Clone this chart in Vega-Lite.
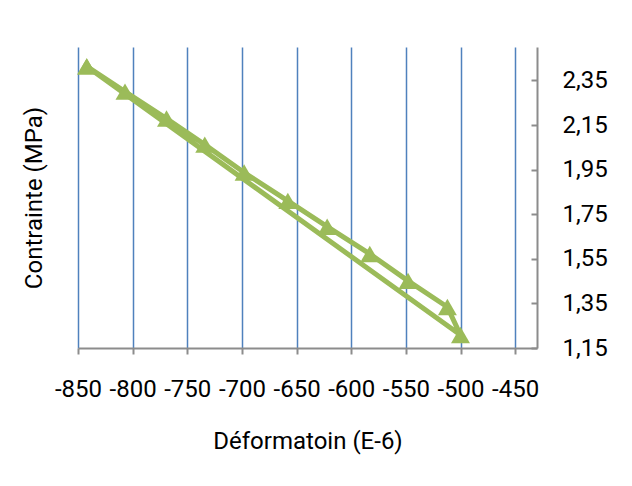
{
  "$schema": "https://vega.github.io/schema/vega-lite/v6.json",
  "width": 459,
  "height": 301,
  "autosize": {"type": "none"},
  "padding": {"left": 78, "top": 47, "right": 95, "bottom": 138},
  "background": "white",
  "config": {
    "view": {"stroke": null},
    "font": "Roboto",
    "axis": {"labelFont": "Roboto", "titleFont": "Roboto"}
  },
  "data": {
    "values": [
      {"i": 1, "def": -842, "contrainte": 2.413},
      {"i": 2, "def": -807, "contrainte": 2.300},
      {"i": 3, "def": -769, "contrainte": 2.179},
      {"i": 4, "def": -734, "contrainte": 2.062},
      {"i": 5, "def": -698, "contrainte": 1.937},
      {"i": 6, "def": -658, "contrainte": 1.810},
      {"i": 7, "def": -622, "contrainte": 1.694},
      {"i": 8, "def": -583, "contrainte": 1.572},
      {"i": 9, "def": -548, "contrainte": 1.451},
      {"i": 10, "def": -512, "contrainte": 1.334},
      {"i": 11, "def": -500, "contrainte": 1.208},
      {"i": 12, "def": -842, "contrainte": 2.413}
    ]
  },
  "resolve": {"axis": {"y": "independent"}},
  "layer": [
    {
      "mark": {"type": "line", "color": "#9BBB59", "strokeWidth": 5, "strokeJoin": "round"},
      "encoding": {
        "x": {
          "field": "def", "type": "quantitative",
          "scale": {"domain": [-850, -430], "nice": false, "zero": false},
          "axis": {
            "orient": "bottom",
            "values": [-850, -800, -750, -700, -650, -600, -550, -500, -450],
            "labelExpr": "toString(datum.value)",
            "grid": true, "gridColor": "#4F81BD", "gridWidth": 1.5, "gridOpacity": 1,
            "domainColor": "#8C8C8C", "domainWidth": 2,
            "tickColor": "#8C8C8C", "tickWidth": 2, "tickSize": 6,
            "labelFontSize": 24, "labelColor": "#000000", "labelPadding": 23,
            "labelFlush": false, "labelOverlap": false,
            "title": "Déformatoin (E-6)", "titleFontSize": 24, "titleFontWeight": "normal",
            "titleColor": "#000000", "titlePadding": 28
          }
        },
        "y": {
          "field": "contrainte", "type": "quantitative",
          "scale": {"domain": [1.15, 2.5], "nice": false, "zero": false},
          "axis": {
            "orient": "right",
            "values": [1.15, 1.35, 1.55, 1.75, 1.95, 2.15, 2.35],
            "labelExpr": "replace(format(datum.value, '.2f'), '.', ',')",
            "grid": false,
            "domainColor": "#8C8C8C", "domainWidth": 2,
            "tickColor": "#8C8C8C", "tickWidth": 2, "tickSize": -6,
            "labelFontSize": 24, "labelColor": "#000000", "labelPadding": 31,
            "labelFlush": false, "labelOverlap": false,
            "title": null
          }
        },
        "order": {"field": "i", "type": "quantitative"}
      }
    },
    {
      "mark": {"type": "point", "shape": "triangle-up", "filled": true, "color": "#9BBB59", "opacity": 1, "size": 360},
      "encoding": {
        "x": {"field": "def", "type": "quantitative"},
        "y": {
          "field": "contrainte", "type": "quantitative",
          "axis": {
            "orient": "left",
            "labels": false, "ticks": false, "domain": false, "grid": false,
            "title": "Contrainte (MPa)", "titleFontSize": 24, "titleFontWeight": "normal",
            "titleColor": "#000000", "titlePadding": 32
          }
        }
      }
    }
  ]
}
